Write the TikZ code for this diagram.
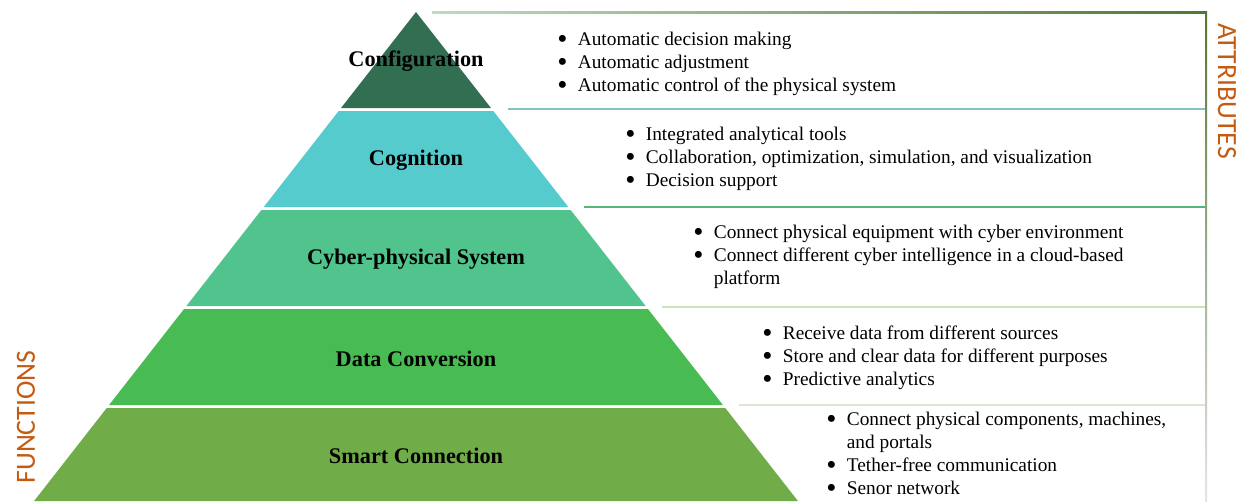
\documentclass[tikz,border=0pt]{standalone}
\usepackage{fontspec}
\setmainfont{Liberation Serif}
\newfontfamily\sidefont{Carlito}
\definecolor{cfgcol}{RGB}{50,110,82}
\definecolor{cogcol}{RGB}{85,203,205}
\definecolor{cpscol}{RGB}{80,196,140}
\definecolor{dcvcol}{RGB}{72,187,82}
\definecolor{smtcol}{RGB}{112,172,71}
\definecolor{sidecol}{RGB}{197,90,17}
\definecolor{cogline}{RGB}{130,196,198}
\definecolor{cpsline}{RGB}{88,182,124}
\definecolor{dcvline}{RGB}{200,228,188}
\definecolor{smtline}{RGB}{218,230,212}
\newcommand{\bul}{\makebox[0.41cm][l]{\smash{\raisebox{-0.14em}{\scalebox{1.5}{\textbullet}}}}}
\begin{document}
\begin{tikzpicture}[x=0.02cm,y=-0.02cm,
		layer/.style={font=\fontsize{12.7}{15}\selectfont\bfseries},
		attr/.style={anchor=west,inner sep=0pt,font=\fontsize{11}{13.1}\selectfont},
		side/.style={font=\sidefont\fontsize{15.8}{18}\selectfont,text=sidecol}]
		  \useasboundingbox (0,0) rectangle (1246,501);
		  \foreach \t/\b/\c/\nm/\txt in {12/108/cfgcol/cfg/Configuration, 111/207/cogcol/cog/Cognition,
		      210/306/cpscol/cps/Cyber-physical System, 309/405/dcvcol/dcv/Data Conversion, 408/501/smtcol/smt/Smart Connection}
		    {\fill[\c] ({416-0.781*(\t-12)},\t) -- ({416+0.781*(\t-12)},\t) -- ({416+0.781*(\b-12)},\b) -- ({416-0.781*(\b-12)},\b) -- cycle;
		     \node[layer] (\nm) at (416,{(\t+\b)/2+1.5}) {\txt};}
  % lines of the attribute boxes
		  \shade[left color=green!30!gray!40,right color=smtcol!70!black] (432,11) rectangle (1206,13);
		  \foreach \y/\cl in {109/cogline, 207/cpsline, 307/dcvline, 405/smtline}
		    \draw[color=\cl,line width=1.1pt] ({416+0.781*(\y-12)+16},\y) -- (1206,\y);
		  \shade[top color=smtcol!70!black,middle color=green!20!white,bottom color=gray!20] (1205,11) rectangle (1207,501);
		  \node[attr] (cfgattr) at (557,64) {\begin{tabular}{@{}l@{}}\bul Automatic decision making\\ \bul Automatic adjustment\\
		      \bul Automatic control of the physical system\end{tabular}};
		  \node[attr] (cogattr) at (625,159) {\begin{tabular}{@{}l@{}}\bul Integrated analytical tools\\
		      \bul Collaboration, optimization, simulation, and visualization\\ \bul Decision support\end{tabular}};
		  \node[attr] (cpsattr) at (693,257) {\begin{tabular}{@{}l@{}}\bul Connect physical equipment with cyber environment\\
		      \bul Connect different cyber intelligence in a cloud-based\\ \hspace{0.41cm}platform\end{tabular}};
		  \node[attr] (dcvattr) at (762,358) {\begin{tabular}{@{}l@{}}\bul Receive data from different sources\\
		      \bul Store and clear data for different purposes\\ \bul Predictive analytics\end{tabular}};
		  \node[attr] (smtattr) at (826,455.5) {\begin{tabular}{@{}l@{}}\bul Connect physical components, machines,\\
		      \hspace{0.41cm}and portals\\ \bul Tether-free communication\\ \bul Senor network\end{tabular}};
		  \node[side,rotate=-90] (attrs) at (1227,91) {ATTRIBUTES};
		  \node[side,rotate=90] (funcs) at (26,417) {FUNCTIONS};
		\end{tikzpicture}
\end{document}
